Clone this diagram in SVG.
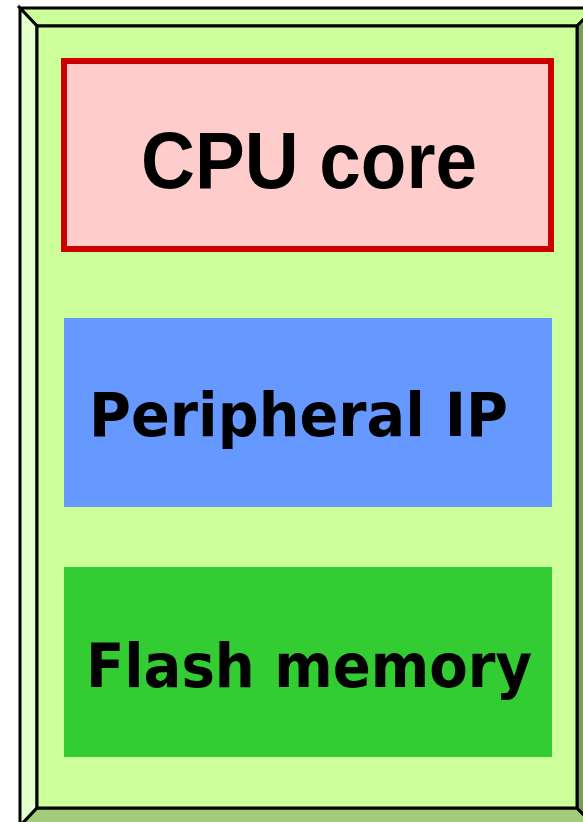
<svg xmlns="http://www.w3.org/2000/svg" width="583" height="822" viewBox="0 0 583 822">
<style>
.bev{stroke:#000;stroke-width:3;stroke-linejoin:miter}
.lbl{font-family:"DejaVu Sans",Verdana,sans-serif;font-weight:bold;font-size:61px;fill:#000}
.cpu{font-family:"Liberation Sans",Arial,sans-serif;font-weight:bold;font-size:79px;fill:#000}
</style>
<rect width="583" height="822" fill="#fff"/>
<g id="chip">
<polygon class="bev" points="20,8 595,8 577,26 37,26" fill="#CCFF99"/>
<polygon class="bev" points="20,8 37,26 37,808 20,826" fill="#E2FFCC"/>
<polygon class="bev" points="20,826 37,808 577,808 595,826" fill="#A3CC7A"/>
<polygon class="bev" points="595,8 577,26 577,808 595,826" fill="#7A995C"/>
<rect class="bev" x="37" y="26" width="540" height="782" fill="#CCFF99"/>
</g>
<g id="cpu">
<rect x="64" y="61" width="487" height="188" fill="#FFCCCC" stroke="#CC0000" stroke-width="6"/>
<text class="cpu" x="141" y="188" textLength="336" lengthAdjust="spacingAndGlyphs">CPU core</text>
</g>
<g id="peripheral">
<rect x="64" y="318" width="488" height="189" fill="#6699FF"/>
<text class="lbl" x="89" y="436" textLength="419" lengthAdjust="spacingAndGlyphs">Peripheral IP</text>
</g>
<g id="flash">
<rect x="64" y="567" width="488" height="190" fill="#33CC33"/>
<text class="lbl" x="86" y="687" textLength="446" lengthAdjust="spacingAndGlyphs">Flash memory</text>
</g>
<g id="connectors"/>
</svg>
